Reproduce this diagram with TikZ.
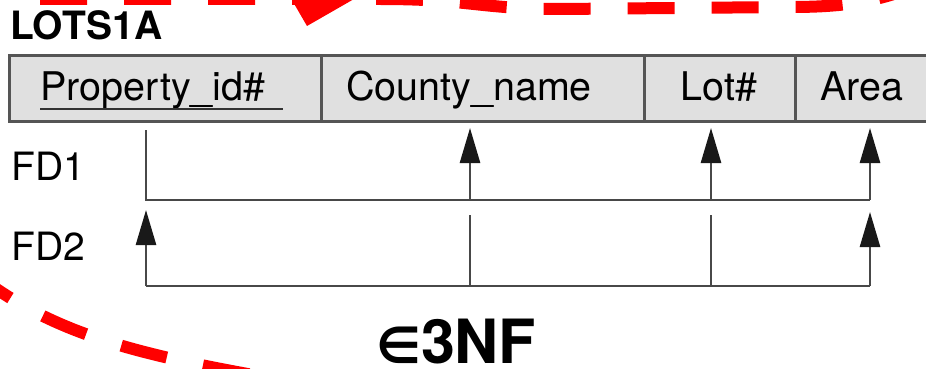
\documentclass[tikz,border=0pt]{standalone}
\usepackage{fontspec}
\setmainfont{TeX Gyre Heros}
\newfontfamily\symfont{DejaVu Sans}
\usetikzlibrary{arrows.meta}
\definecolor{cellfill}{HTML}{E0E0E0}
\definecolor{cellline}{HTML}{555555}
\definecolor{fdline}{HTML}{484848}
\tikzset{
  cellbox/.style={fill=cellfill,draw=cellline,line width=2.6pt},
  attr/.style={anchor=base,inner sep=0pt,font=\fontsize{39.5}{40}\selectfont},
  fdlabel/.style={anchor=base west,inner sep=0pt,font=\fontsize{39}{40}\selectfont},
  fd/.style={draw=fdline,line width=2.6pt},
  fdarrow/.style={fd,-{Triangle[length=35pt,width=20pt,fill=black!90,color=black!90]}},
  reddash/.style={draw=red,line width=12pt,dash pattern=on 47pt off 37pt},
}
\begin{document}
\begin{tikzpicture}[x=1pt,y=-1pt]
\useasboundingbox (0,0) rectangle (926,369);
\clip (0,0) rectangle (926,369);
% table cells
\node[cellbox,minimum width=312pt,minimum height=66pt,anchor=north west,inner sep=0pt] (cp) at (8,54) {};
\node[cellbox,minimum width=323pt,minimum height=66pt,anchor=north west,inner sep=0pt] (cc) at (320,54) {};
\node[cellbox,minimum width=151pt,minimum height=66pt,anchor=north west,inner sep=0pt] (cl) at (643,54) {};
\node[cellbox,minimum width=150pt,minimum height=66pt,anchor=north west,inner sep=0pt] (ca) at (794,54) {};
% attribute texts
\node[attr] (tp) at (153,100) {Property\_id\#};
\node[attr] (tc) at (469,100) {County\_name};
\node[attr] (tl) at (719,100) {Lot\#};
\node[attr] (ta) at (862,100) {Area};
\draw[line width=2.6pt,color=black!80] (40,109) coordinate (u1) -- (283,109) coordinate (u2);
% title and labels
\node[anchor=base west,inner sep=0pt,font=\bfseries\fontsize{39}{40}\selectfont] (title) at (10,40) {LOTS1A};
\node[fdlabel] (fd1) at (11,180) {FD1};
\node[fdlabel] (fd2) at (11,260) {FD2};
% FD1 coordinates
\coordinate (a1) at (146,130);
\coordinate (a1b) at (146,200);
\coordinate (c1b) at (470,200);
\coordinate (c1t) at (470,128);
\coordinate (l1b) at (711,200);
\coordinate (l1t) at (711,128);
\coordinate (r1b) at (870,200);
\coordinate (r1t) at (870,128);
\draw[fd,line join=miter] (a1) -- (a1b) -- (r1b);
\draw[fdarrow] (c1b) -- (c1t);
\draw[fdarrow] (l1b) -- (l1t);
\draw[fdarrow] (r1b) -- (r1t);
% FD2 coordinates
\coordinate (a2b) at (146,286);
\coordinate (a2t) at (146,210);
\coordinate (c2t) at (470,215);
\coordinate (c2b) at (470,286);
\coordinate (l2t) at (711,215);
\coordinate (l2b) at (711,286);
\coordinate (r2b) at (870,286);
\coordinate (r2t) at (870,212);
\draw[fd] (a2b) -- (r2b);
\draw[fdarrow] (a2b) -- (a2t);
\draw[fd] (c2t) -- (c2b);
\draw[fd] (l2t) -- (l2b);
\draw[fdarrow] (r2b) -- (r2t);
% 3NF label
\node[anchor=base west,inner sep=0pt,text depth=0pt,font=\bfseries\fontsize{61}{62}\selectfont] (nf) at (376,363) {{\symfont\fontsize{50}{50}\selectfont ∈}3NF};
% red dashed curves
\draw[reddash] (40,-1) -- (380,-1) .. controls (470,-1) and (480,9) .. (560,9) -- (790,7) .. controls (840,7) and (880,3) .. (930,-20);
\fill[red] (289,-5) -- (361,-5) -- (307,26) -- cycle;
\draw[reddash,dash phase=20pt] (-12,283) .. controls (60,335) and (140,355) .. (270,378);
\end{tikzpicture}
\end{document}
